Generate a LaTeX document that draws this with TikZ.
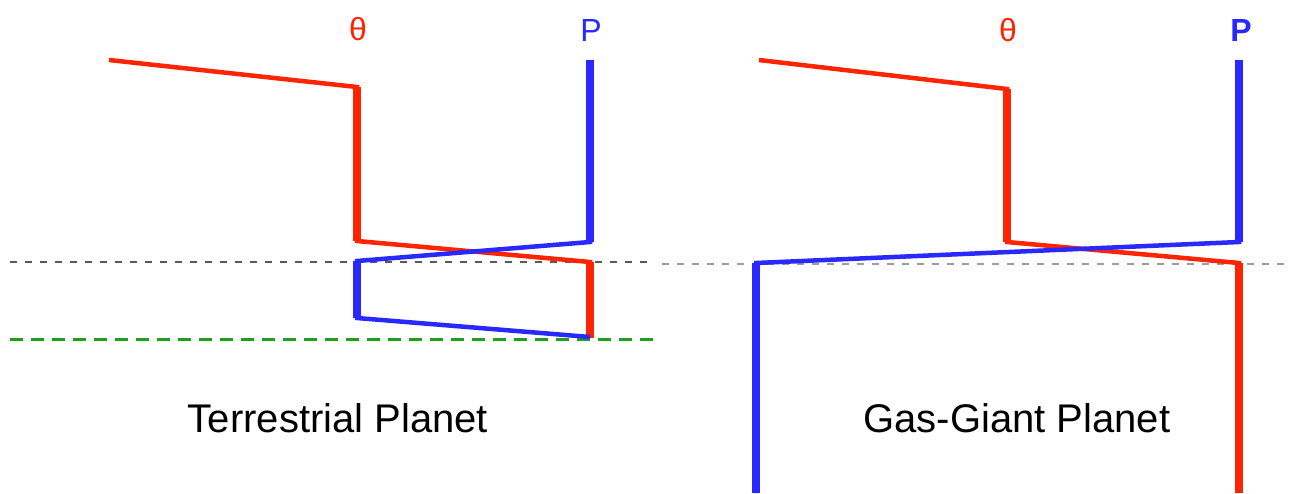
\documentclass[tikz,border=0pt]{standalone}
\usepackage{fontspec}
\setmainfont{Liberation Sans}
\definecolor{tred}{RGB}{255,36,0}
\definecolor{pblue}{RGB}{40,40,255}
\definecolor{dgreen}{RGB}{30,160,30}
\definecolor{dgray}{RGB}{90,90,90}
\begin{document}
\begin{tikzpicture}[x=1pt,y=-1pt,
  slant/.style={line width=4.5pt, line join=miter},
  vert/.style={line width=8pt},
  graydash/.style={dgray, line width=1.6pt, dash pattern=on 7pt off 8pt},
  greendash/.style={dgreen, line width=3pt, dash pattern=on 13pt off 8pt},
  sym/.style={font=\fontsize{32}{32}\selectfont, inner sep=0pt},
  caption/.style={font=\fontsize{40}{40}\selectfont, anchor=base, inner sep=0pt}]
\useasboundingbox (0,0) rectangle (1294,493);
% reference levels
\coordinate (gl1) at (10,262);
\coordinate (gl2) at (652,262);
\coordinate (gr1) at (662,264);
\coordinate (gr2) at (1284,264);
\coordinate (gn1) at (10,339);
\coordinate (gn2) at (655,339);
\draw[graydash] (gl1) -- (gl2);
\draw[graydash, opacity=0.6] (gr1) -- (gr2);
\draw[greendash] (gn1) -- (gn2);
% ---------- Terrestrial ----------
\coordinate (ta1) at (109,60);
\coordinate (ta2) at (357,87);
\coordinate (ta3) at (357,241);
\coordinate (ta4) at (590,262);
\coordinate (ta5) at (590,338);
\coordinate (pa1) at (590,60);
\coordinate (pa2) at (590,242);
\coordinate (pa3) at (357,261);
\coordinate (pa4) at (357,318);
\coordinate (pa5) at (590,337);
\draw[tred, slant] (ta1) -- (ta2) -- (ta3) -- (ta4) -- (ta5);
\draw[tred, vert] (ta2) -- (ta3);
\draw[tred, vert] (ta4) -- (ta5);
\draw[pblue, slant] (pa1) -- (pa2) -- (pa3) -- (pa4) -- (pa5);
\draw[pblue, vert] (pa1) -- (pa2);
\draw[pblue, vert] (pa3) -- (pa4);
% ---------- Gas giant ----------
\coordinate (tb1) at (759,60);
\coordinate (tb2) at (1007,89);
\coordinate (tb3) at (1007,242);
\coordinate (tb4) at (1239,263);
\coordinate (tb5) at (1239,493);
\coordinate (pb1) at (1239,60);
\coordinate (pb2) at (1239,242);
\coordinate (pb3) at (756,263);
\coordinate (pb4) at (756,493);
\draw[tred, slant] (tb1) -- (tb2) -- (tb3) -- (tb4) -- (tb5);
\draw[tred, vert] (tb2) -- (tb3);
\draw[tred, vert] (tb4) -- (tb5);
\draw[pblue, slant] (pb1) -- (pb2) -- (pb3) -- (pb4);
\draw[pblue, vert] (pb1) -- (pb2);
\draw[pblue, vert] (pb3) -- (pb4);
% labels
\node[sym, text=tred] (th1) at (358,29) {θ};
\node[sym, text=pblue] (p1) at (591,30) {P};
\node[sym, text=tred] (th2) at (1008,30) {θ};
\node[sym, text=pblue, font=\fontsize{32}{32}\selectfont\bfseries] (p2) at (1241,30) {P};
\node[caption] (c1) at (338,432) {Terrestrial Planet};
\node[caption] (c2) at (1017,432) {Gas-Giant Planet};
\end{tikzpicture}
\end{document}
